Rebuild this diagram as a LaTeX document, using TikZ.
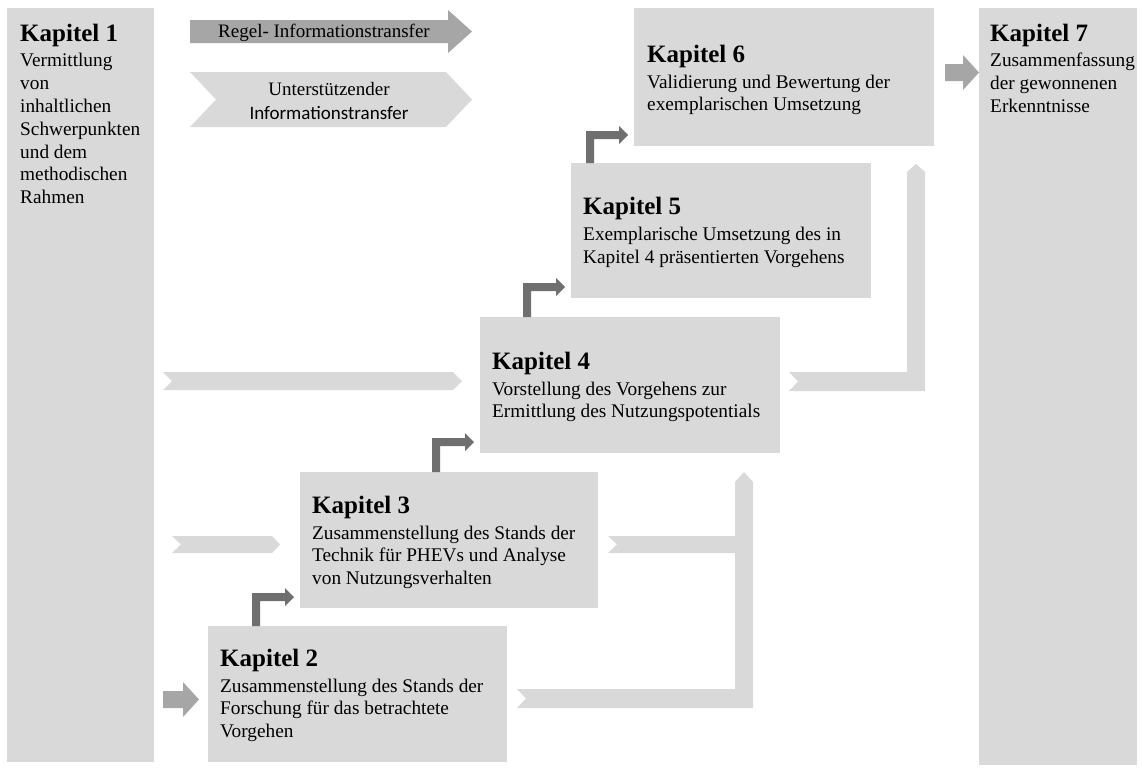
\documentclass[tikz,border=0pt]{standalone}
\usepackage{fontspec}
\setmainfont{Liberation Serif}
\newfontfamily\legendsans{Carlito}
\usetikzlibrary{calc}
\definecolor{boxfill}{HTML}{D9D9D9}
\definecolor{mainflow}{HTML}{A6A6A6}
\definecolor{stepflow}{HTML}{6F6F6F}

\tikzset{
  chapter/.style={fill=boxfill, anchor=north west, inner sep=0pt, outer sep=0pt},
  chaptext/.style={anchor=west, align=left, inner sep=0pt,
    font=\fontsize{19.3}{22.5}\selectfont},
  sidetext/.style={anchor=north west, align=left, inner sep=0pt,
    font=\fontsize{19.3}{22.8}\selectfont},
  lite/.style={fill=boxfill},
  regular/.style={fill=mainflow},
  stepup/.style={fill=stepflow},
}
\newcommand\chaphead[1]{{\fontsize{25}{22.5}\selectfont\bfseries #1}}

% dark elbow arrow: up out of box #1, then right into box #2
\newcommand\elbowarrow[2]{%
  \fill[stepup] let \p1=(#2.south west), \p2=(#1.north) in
    (\x1-48pt,\y2) -- (\x1-48pt,\y1+15pt) -- (\x1-15pt,\y1+15pt) -- (\x1-15pt,\y1+20pt)
    -- (\x1-6pt,\y1+11pt) -- (\x1-15pt,\y1+2pt) -- (\x1-15pt,\y1+7pt)
    -- (\x1-40pt,\y1+7pt) -- (\x1-40pt,\y2) -- cycle;}

\begin{document}
\begin{tikzpicture}[x=1pt,y=-1pt]
\useasboundingbox (0,0) rectangle (1142,769);

% chapter boxes
\node[chapter, minimum width=147pt, minimum height=754pt] (k1) at (7,8) {};
\node[chapter, minimum width=299pt, minimum height=136pt] (k2) at (208,626) {};
\node[chapter, minimum width=298pt, minimum height=136pt] (k3) at (300,472) {};
\node[chapter, minimum width=300pt, minimum height=136pt] (k4) at (480,317) {};
\node[chapter, minimum width=300pt, minimum height=135pt] (k5) at (571,163) {};
\node[chapter, minimum width=300pt, minimum height=138pt] (k6) at (634,8) {};
\node[chapter, minimum width=158pt, minimum height=757pt] (k7) at (979,8) {};

% chapter texts
\node[sidetext] (t1) at (20,24)
  {\chaphead{Kapitel 1}\\[2.5pt]Vermittlung\\von\\inhaltlichen\\Schwerpunkten\\und dem\\methodischen\\Rahmen};
\node[chaptext] (t2) at ($(k2.west)+(12,1)$)
  {\chaphead{Kapitel 2}\\[3.5pt]Zusammenstellung des Stands der\\Forschung für das betrachtete\\Vorgehen};
\node[chaptext] (t3) at ($(k3.west)+(12,2)$)
  {\chaphead{Kapitel 3}\\[3.5pt]Zusammenstellung des Stands der\\Technik für PHEVs und Analyse\\von Nutzungsverhalten};
\node[chaptext] (t4) at ($(k4.west)+(12,2)$)
  {\chaphead{Kapitel 4}\\[3.5pt]Vorstellung des Vorgehens zur\\Ermittlung des Nutzungspotentials};
\node[chaptext] (t5) at ($(k5.west)+(12,2)$)
  {\chaphead{Kapitel 5}\\[3.5pt]Exemplarische Umsetzung des in\\Kapitel 4 präsentierten Vorgehens};
\node[chaptext] (t6) at ($(k6.west)+(13,3)$)
  {\chaphead{Kapitel 6}\\[3.5pt]Validierung und Bewertung der\\exemplarischen Umsetzung};
\node[sidetext] (t7) at (990,24)
  {\chaphead{Kapitel 7}\\[2.5pt]Zusammenfassung\\der gewonnenen\\Erkenntnisse};

% legend
\fill[regular] (190,20) -- (448,20) -- (448,10) -- (472,31.5) -- (448,53) -- (448,43) -- (190,43) -- cycle;
\node[inner sep=0pt, font=\fontsize{19}{22}\selectfont] (regel) at (324,32.5) {Regel- Informationstransfer};
\fill[lite] (190,72) -- (446,72) -- (472,99.5) -- (446,127) -- (190,127) -- (216,99.5) -- cycle;
\node[inner sep=0pt, align=center, font=\fontsize{19}{24}\selectfont] (support) at (329,100.5)
  {Unterstützender\\{\legendsans\fontsize{19}{24}\selectfont Informationstransfer}};

% regular transfer: Kapitel 1 -> Kapitel 2, Kapitel 6 -> Kapitel 7
\fill[regular] let \p1=(k1.east), \p2=(k2.west) in
  (\x1+9pt,\y2+3pt) -- (\x2-25pt,\y2+3pt) -- (\x2-25pt,\y2+12pt) -- (\x2-9pt,\y2-5.5pt)
  -- (\x2-25pt,\y2-23pt) -- (\x2-25pt,\y2-14pt) -- (\x1+9pt,\y2-14pt) -- cycle;
\fill[regular] let \p1=(k6.east), \p2=(k7.west) in
  (\x1+11pt,\y1+13pt) -- (\x2-16pt,\y1+13pt) -- (\x2-16pt,\y1+22pt) -- (\x2,\y1+4.5pt)
  -- (\x2-16pt,\y1-13pt) -- (\x2-16pt,\y1-4pt) -- (\x1+11pt,\y1-4pt) -- cycle;

% regular transfer between consecutive chapters
\elbowarrow{k2}{k3}
\elbowarrow{k3}{k4}
\elbowarrow{k4}{k5}
\elbowarrow{k5}{k6}

% supporting transfer: Kapitel 1 -> Kapitel 4 and Kapitel 3
\fill[lite] let \p1=(k1.east), \p2=(k4.west) in
  (\x1+9pt,\y2+13pt) -- (\x2-27pt,\y2+13pt) -- (\x2-18pt,\y2+4pt) -- (\x2-27pt,\y2-5pt)
  -- (\x1+9pt,\y2-5pt) -- (\x1+18pt,\y2+4pt) -- cycle;
\fill[lite] let \p1=(k1.east), \p2=(k3.west) in
  (\x1+18pt,\y2+4pt) -- (\x2-28pt,\y2+4pt) -- (\x2-20pt,\y2-4.5pt) -- (\x2-28pt,\y2-13pt)
  -- (\x1+18pt,\y2-13pt) -- (\x1+27pt,\y2-4.5pt) -- cycle;

% supporting transfer: Kapitel 2 and Kapitel 3 -> Kapitel 4
\fill[lite] let \p1=(k2.east), \p2=(k3.east), \p3=(k4.south east) in
  (\x1+10pt,\y1+5pt) -- (\x3-45pt,\y1+5pt) -- (\x3-45pt,\y2-13pt) -- (\x2+10pt,\y2-13pt)
  -- (\x2+19pt,\y2-4.5pt) -- (\x2+10pt,\y2+4pt) -- (\x3-45pt,\y2+4pt) -- (\x3-45pt,\y3-29pt)
  -- (\x3-36pt,\y3-19pt) -- (\x3-27pt,\y3-29pt) -- (\x3-27pt,\y1-14pt) -- (\x1+10pt,\y1-14pt)
  -- (\x1+19pt,\y1-4.5pt) -- cycle;

% supporting transfer: Kapitel 4 -> Kapitel 6
\fill[lite] let \p1=(k4.east), \p2=(k6.south east) in
  (\x1+9pt,\y1+13pt) -- (\x2-27pt,\y1+13pt) -- (\x2-27pt,\y2-26pt) -- (\x2-18pt,\y2-18pt)
  -- (\x2-9pt,\y2-26pt) -- (\x2-9pt,\y1-6pt) -- (\x1+9pt,\y1-6pt) -- (\x1+18pt,\y1+3.5pt) -- cycle;
\end{tikzpicture}
\end{document}
